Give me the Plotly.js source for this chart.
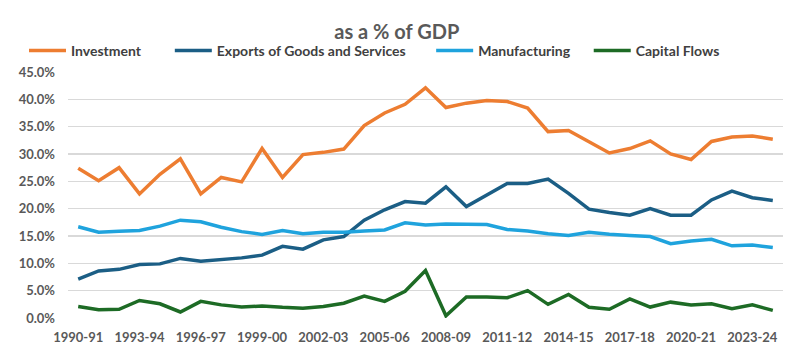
<!DOCTYPE html>
<html>
<head>
<meta charset="utf-8">
<script src="https://cdn.plot.ly/plotly-3.0.1.min.js"></script>
<style>html,body{margin:0;padding:0;background:#fff;}#chart{width:800px;height:358px;}</style>
</head>
<body>
<div id="chart"></div>
<script>
const years = ["1990-91","1991-92","1992-93","1993-94","1994-95","1995-96","1996-97","1997-98","1998-99","1999-00",
"2000-01","2001-02","2002-03","2003-04","2004-05","2005-06","2006-07","2007-08","2008-09","2009-10",
"2010-11","2011-12","2012-13","2013-14","2014-15","2015-16","2016-17","2017-18","2018-19","2019-20",
"2020-21","2021-22","2022-23","2023-24","2024-25"];
const investment = [27.4,25.1,27.5,22.7,26.3,29.1,22.7,25.7,24.9,31.0,
25.7,29.9,30.3,30.9,35.2,37.5,39.1,42.1,38.5,39.3,
39.8,39.6,38.4,34.1,34.3,32.3,30.2,31.0,32.4,30.0,
29.0,32.3,33.1,33.3,32.7];
const exportsGS = [7.1,8.6,8.9,9.8,9.9,10.9,10.4,10.7,11.0,11.5,
13.1,12.6,14.3,14.9,17.9,19.8,21.3,21.0,24.0,20.4,
22.5,24.6,24.6,25.4,22.8,19.9,19.3,18.8,20.0,18.8,
18.8,21.6,23.2,22.0,21.5];
const manufacturing = [16.7,15.7,15.85,16.0,16.8,17.9,17.6,16.6,15.8,15.3,
16.0,15.4,15.7,15.7,15.9,16.1,17.4,17.0,17.2,17.2,
17.1,16.2,15.9,15.4,15.1,15.7,15.3,15.1,14.9,13.6,
14.1,14.4,13.2,13.35,12.9];
const capitalFlows = [2.1,1.5,1.6,3.2,2.6,1.1,3.05,2.4,2.0,2.2,
1.95,1.8,2.1,2.7,4.0,3.05,4.9,8.7,0.4,3.85,
3.85,3.7,5.0,2.5,4.3,1.95,1.6,3.5,2.0,2.9,
2.4,2.6,1.7,2.4,1.4];
const tickLabels = ["1990-91","1993-94","1996-97","1999-00","2002-03","2005-06","2008-09","2011-12","2014-15","2017-18","2020-21","2023-24"];
const yTicks = [0,5,10,15,20,25,30,35,40,45];

const names = ["Investment","Exports of Goods and Services","Manufacturing","Capital Flows"];
const colors = ["#ED7D31","#1B5E85","#1FA3DD","#1D6B25"];
const series = [investment, exportsGS, manufacturing, capitalFlows];
const pads = [7,6,4,0];

const traces = series.map((s,i)=>({
  x: years, y: s, type:'scatter', mode:'lines', name:names[i] + "\u00A0".repeat(pads[i]),
  line:{color:colors[i], width:3.5, shape:'linear'},
  hoverinfo:'skip'
}));

const font = "Lato, 'Open Sans', 'Liberation Sans', sans-serif";
const layout = {
  width:800, height:358,
  margin:{l:68, r:17, t:72, b:40},
  paper_bgcolor:'#fff', plot_bgcolor:'#fff',
  font:{family:font, color:'#595959'},
  title:{text:'as a % of GDP', x:0.496, xref:'container', xanchor:'center', y:0.912, yref:'container', yanchor:'middle',
    font:{family:font, size:20, color:'#595959', weight:'bold'}},
  showlegend:true,
  legend:{orientation:'h', x:0.03, xref:'container', xanchor:'left', y:0.858, yref:'container', yanchor:'middle',
    font:{family:font, size:14, color:'#404040', weight:'bold'}, itemwidth:37, traceorder:'normal',
    bgcolor:'rgba(0,0,0,0)'},
  xaxis:{type:'category', range:[-0.5,34.5], tickmode:'array', tickvals:tickLabels, ticktext:tickLabels,
    showgrid:false, zeroline:false, showline:false, ticks:'', fixedrange:true, ticklabelstandoff:10,
    tickfont:{family:font, size:13, color:'#595959', weight:'bold'}},
  yaxis:{range:[0,45], tickmode:'array', tickvals:yTicks, ticktext:yTicks.map(v=>v.toFixed(1)+'%'),
    showgrid:true, gridcolor:'#D9D9D9', gridwidth:1.4, zeroline:false, showline:false, ticks:'', ticklen:0,
    ticklabelstandoff:12,
    tickfont:{family:font, size:13, color:'#595959', weight:'bold'}, fixedrange:true}
};
Plotly.newPlot('chart', traces, layout, {displayModeBar:false, staticPlot:true});
</script>
</body>
</html>
